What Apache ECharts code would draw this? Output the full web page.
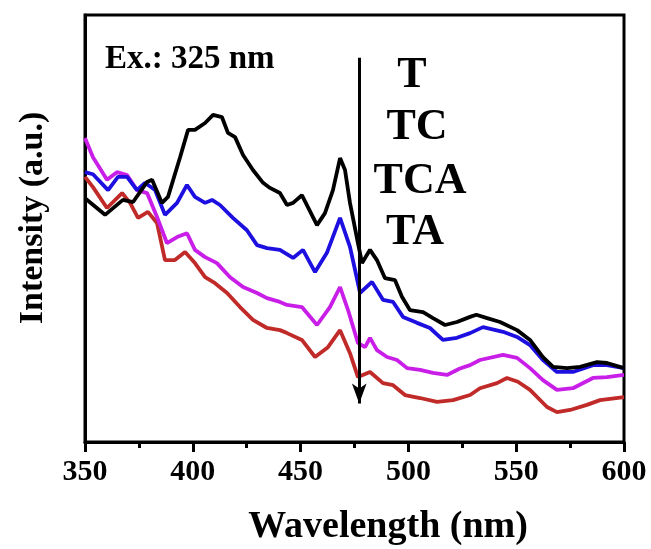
<!DOCTYPE html>
<html>
<head>
<meta charset="utf-8">
<script src="https://cdn.jsdelivr.net/npm/echarts@6/dist/echarts.min.js"></script>
<style>
  html, body { margin: 0; padding: 0; background: #fff; }
  #chart { width: 651px; height: 549px; }
</style>
</head>
<body>
<div id="chart"></div>
<script>
  // wavelength (nm) / intensity (a.u.)
  var wlT = [350, 359.3, 367.6, 372.3, 378.8, 381.1, 385.7, 388.5, 394.1, 397.8, 401, 405.7, 409.4, 413.5, 416.3, 419.6, 423.3, 427.9, 432.6, 435.8, 440.4, 443.7, 446.5, 450.6, 457.6, 461.3, 465, 468.3, 470.6, 472.9, 476.6, 478.5, 482.2, 485.4, 489.1, 493.8, 497, 500.7, 506.8, 511.4, 517, 522.5, 528.6, 531.5, 536.5, 542.5, 550.4, 556.4, 562.4, 567.1, 573.6, 579.6, 587.5, 592.1, 600];
  var intT = [57.1, 53.2, 56.7, 56.2, 60.9, 61.4, 56.0, 57.4, 66.7, 73.1, 73.1, 74.7, 76.6, 76.1, 72.4, 71.4, 67.2, 63.7, 60.7, 59.5, 58.3, 55.5, 56.0, 57.8, 50.8, 53.6, 59.0, 66.5, 63.7, 56.0, 46.6, 41.9, 45.0, 42.6, 38.4, 37.9, 34.0, 30.9, 30.4, 29.0, 27.4, 28.1, 29.3, 29.8, 29.0, 28.1, 26.2, 23.9, 19.9, 17.6, 17.3, 17.6, 18.7, 18.5, 17.3];

  var wlTC = [350, 353.7, 360.7, 365.3, 369.5, 374.1, 377.8, 382.5, 387.1, 392.7, 397.3, 401, 405.7, 408.9, 412.6, 418.6, 425.1, 429.8, 434.4, 440.4, 446.5, 451.1, 456.7, 462.2, 468.3, 472.9, 477.6, 483.1, 488.2, 492.9, 497.5, 504, 510, 516, 522.5, 528.6, 534.6, 543.9, 550.4, 556.4, 562.4, 568.9, 576.3, 585.6, 592.1, 600];
  var intTC = [63.2, 62.7, 59.0, 62.1, 62.1, 59.0, 60.7, 59.0, 53.2, 56.0, 60.2, 57.4, 56.0, 56.7, 55.5, 52.5, 49.6, 46.1, 45.4, 45.0, 43.1, 45.0, 39.8, 44.3, 52.5, 45.7, 34.9, 37.5, 33.3, 32.8, 29.3, 27.9, 26.7, 23.9, 24.4, 25.5, 26.9, 25.8, 24.6, 22.7, 19.2, 16.4, 16.4, 18.0, 18.0, 17.3];

  var wlTCA = [350, 353.7, 360.2, 364.8, 369.5, 374.1, 378.8, 383.4, 388, 392.7, 397.3, 401, 405.7, 411.2, 417.3, 423.3, 429.8, 434.4, 440.4, 443.7, 450.6, 457.6, 463.6, 468.3, 472, 476.6, 479.9, 482.2, 485.4, 490.1, 494.7, 499.4, 505.4, 511.4, 517.9, 523.9, 528.6, 533.2, 543.9, 550.4, 556.4, 562.4, 568.9, 576.3, 585.6, 592.1, 600];
  var intTCA = [71.2, 66.7, 61.4, 63.2, 62.5, 59.0, 58.3, 52.7, 46.6, 48.0, 48.9, 45.0, 43.3, 41.9, 38.6, 36.3, 34.9, 33.7, 32.8, 32.1, 31.6, 27.4, 31.6, 36.3, 30.9, 23.2, 22.2, 24.4, 21.5, 19.9, 19.2, 17.3, 16.9, 16.2, 15.7, 17.2, 18.0, 19.2, 20.4, 19.7, 17.3, 14.5, 12.2, 12.6, 15.0, 15.2, 15.7];

  var wlTA = [350, 353.7, 360.2, 367.2, 370.9, 374.6, 379.2, 383.4, 387.1, 391.7, 396.4, 401, 405.7, 410.3, 415.9, 421.9, 427.9, 434.4, 440.4, 443.7, 450.6, 456.7, 462.7, 468.3, 472.9, 476.6, 482.2, 488.2, 492.9, 498.4, 505.4, 513.3, 520.7, 528.6, 533.2, 541.1, 545.7, 550.8, 556.4, 564.3, 568.9, 575, 582.8, 588.9, 600];
  var intTA = [62.1, 59.7, 54.8, 58.3, 56.0, 52.5, 53.9, 51.3, 42.6, 42.6, 44.5, 41.9, 38.6, 37.2, 34.9, 31.6, 28.6, 26.7, 26.2, 25.5, 23.9, 19.9, 22.2, 26.2, 20.8, 15.2, 16.4, 13.8, 13.3, 11.0, 10.3, 9.4, 9.8, 11.0, 12.6, 13.8, 15.0, 14.1, 12.2, 8.2, 7.0, 7.5, 8.7, 9.8, 10.5];

  var sampleNames = ['T', 'TC', 'TCA', 'TA'];
  var xTicks = [350, 400, 450, 500, 550, 600];

  function pairs(xs, ys) {
    var out = [];
    for (var i = 0; i < xs.length; i++) {
      out.push([xs[i], ys[i]]);
    }
    return out;
  }

  var serif = '"Liberation Serif", "DejaVu Serif", serif';
  var chart = echarts.init(document.getElementById('chart'));

  var option = {
    backgroundColor: '#fff',
    animation: false,
    grid: {
      left: 85, right: 27, top: 15, bottom: 107,
      show: true, borderColor: '#000', borderWidth: 3
    },
    xAxis: {
      type: 'value',
      min: 350, max: 600, interval: 50,
      axisLine: { show: true, lineStyle: { color: '#000', width: 3 } },
      axisTick: { show: true, inside: false, length: 10, lineStyle: { color: '#000', width: 3 } },
      minorTick: { show: true, splitNumber: 2, length: 6, lineStyle: { color: '#000', width: 3 } },
      splitLine: { show: false },
      axisLabel: {
        margin: 15, color: '#000', fontFamily: serif, fontWeight: 'bold', fontSize: 30,
        formatter: function (v) { return xTicks.indexOf(v) >= 0 ? String(v) : ''; }
      }
    },
    yAxis: {
      type: 'value',
      min: 0, max: 100,
      axisLine: { show: true, lineStyle: { color: '#000', width: 3 } },
      axisTick: { show: false },
      axisLabel: { show: false },
      splitLine: { show: false }
    },
    series: [
      {
        name: sampleNames[0], type: 'line', showSymbol: false,
        data: pairs(wlT, intT),
        lineStyle: { color: '#000000', width: 3.8 },
        z: 5,
        markLine: {
          silent: true,
          symbol: ['none', 'arrow'],
          symbolSize: [11, 20],
          label: { show: false },
          lineStyle: { color: '#000', width: 3, type: 'solid' },
          data: [[{ coord: [477.2, 90] }, { coord: [477.2, 9.0] }]]
        }
      },
      {
        name: sampleNames[1], type: 'line', showSymbol: false,
        data: pairs(wlTC, intTC),
        lineStyle: { color: '#1c0fe0', width: 3.8 },
        z: 4
      },
      {
        name: sampleNames[2], type: 'line', showSymbol: false,
        data: pairs(wlTCA, intTCA),
        lineStyle: { color: '#c81ee8', width: 3.8 },
        z: 3
      },
      {
        name: sampleNames[3], type: 'line', showSymbol: false,
        data: pairs(wlTA, intTA),
        lineStyle: { color: '#c02a28', width: 3.8 },
        z: 2
      }
    ],
    graphic: [
      {
        type: 'text', left: 105, top: 43,
        style: { text: 'Ex.: 325 nm', font: 'bold 33px ' + serif, fill: '#000' }
      },
      {
        type: 'text', x: 412, y: 76,
        style: { text: sampleNames[0], font: 'bold 44px ' + serif, fill: '#000', align: 'center', verticalAlign: 'middle' }
      },
      {
        type: 'text', x: 417, y: 128,
        style: { text: sampleNames[1], font: 'bold 44px ' + serif, fill: '#000', align: 'center', verticalAlign: 'middle' }
      },
      {
        type: 'text', x: 420, y: 182,
        style: { text: sampleNames[2], font: 'bold 44px ' + serif, fill: '#000', align: 'center', verticalAlign: 'middle' }
      },
      {
        type: 'text', x: 415, y: 233,
        style: { text: sampleNames[3], font: 'bold 44px ' + serif, fill: '#000', align: 'center', verticalAlign: 'middle' }
      },
      {
        type: 'text', x: 388, y: 527,
        style: { text: 'Wavelength (nm)', font: 'bold 38px ' + serif, fill: '#000', align: 'center', verticalAlign: 'middle' }
      },
      {
        type: 'text', x: 33, y: 218, rotation: Math.PI / 2,
        style: { text: 'Intensity (a.u.)', font: 'bold 34px ' + serif, fill: '#000', align: 'center', verticalAlign: 'middle' }
      }
    ]
  };

  chart.setOption(option);
</script>
</body>
</html>
